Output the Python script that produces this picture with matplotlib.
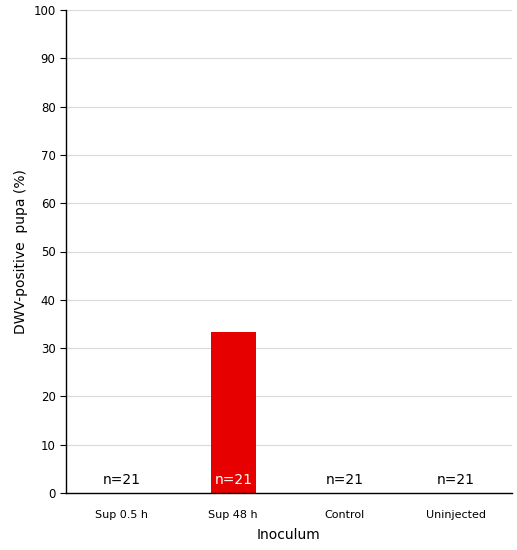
import matplotlib.pyplot as plt

categories = ['Sup 0.5 h', 'Sup 48 h', 'Control', 'Uninjected']
values = [0, 33.3, 0, 0]
n_labels = ['n=21', 'n=21', 'n=21', 'n=21']

fig = plt.figure(figsize=(5.17, 5.5), dpi=100)
ax = fig.add_axes([66 / 517, 57 / 550, 446 / 517, 483 / 550])

x = range(len(categories))
ax.bar(x, values, width=0.4, color='#e60000', zorder=2)

for i, lab in enumerate(n_labels):
    col = 'white' if values[i] > 5 else 'black'
    ax.text(i, 1.2, lab, ha='center', va='bottom', fontsize=10, color=col, zorder=3)

ax.set_xlim(-0.5, len(categories) - 0.5)
ax.set_ylim(0, 100)
ax.set_yticks(range(0, 101, 10))
ax.set_xticks(list(x))
ax.set_xticklabels(categories, fontsize=8)
ax.tick_params(axis='y', labelsize=8.5, length=4, direction='out')
ax.tick_params(axis='x', length=0, pad=12)
ax.yaxis.grid(True, color='#d9d9d9', linewidth=0.8, zorder=0)
ax.set_axisbelow(True)

for s in ['top', 'right']:
    ax.spines[s].set_visible(False)
ax.spines['left'].set_linewidth(1)
ax.spines['bottom'].set_linewidth(1)

ax.set_ylabel('DWV-positive  pupa (%)', fontsize=10)
ax.set_xlabel('Inoculum', fontsize=10, labelpad=6)

fig.savefig('out.png', dpi=100)
